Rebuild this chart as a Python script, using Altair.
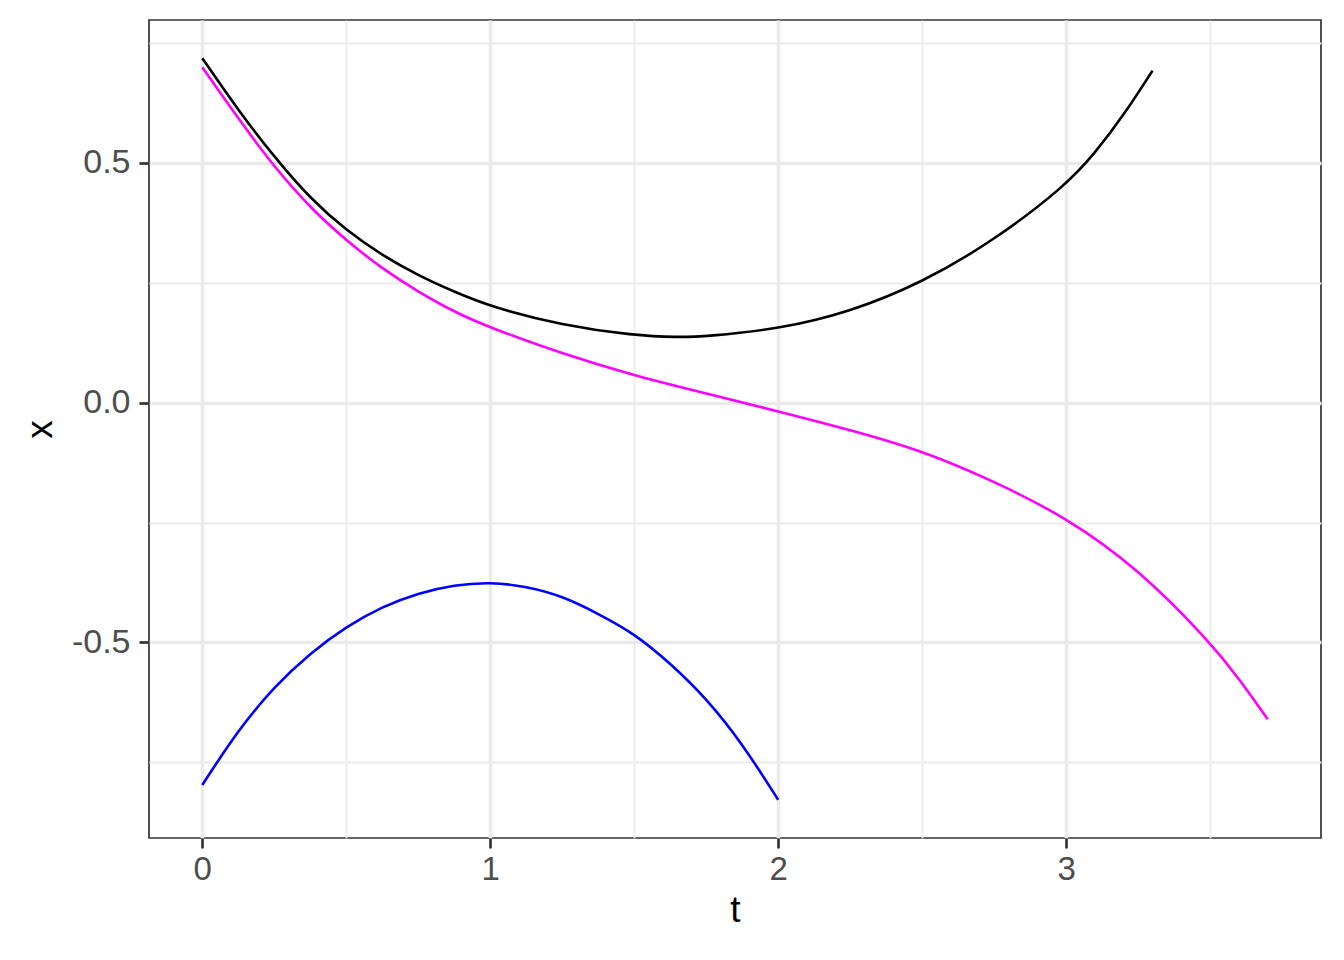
import altair as alt
import pandas as pd

# black curve
t_black = [0.0, 0.125, 0.25, 0.375, 0.5, 0.625, 0.75, 0.875, 1.0, 1.25, 1.5, 1.65, 1.75, 2.0, 2.25, 2.5, 2.75, 3.0, 3.1, 3.2, 3.3]
x_black = [0.718, 0.609, 0.512, 0.425, 0.359, 0.307, 0.265, 0.231, 0.200, 0.161, 0.140, 0.136, 0.138, 0.153, 0.189, 0.250, 0.338, 0.453, 0.520, 0.599, 0.692]

# magenta curve
t_mag = [0.0, 0.125, 0.25, 0.375, 0.5, 0.625, 0.75, 0.875, 1.0, 1.25, 1.5, 1.75, 2.0, 2.25, 2.5, 2.75, 3.0, 3.25, 3.5, 3.6, 3.7]
x_mag = [0.699, 0.592, 0.491, 0.406, 0.338, 0.279, 0.231, 0.189, 0.156, 0.102, 0.056, 0.019, -0.018, -0.057, -0.100, -0.164, -0.239, -0.346, -0.499, -0.575, -0.660]

# blue curve
t_blue = [0.0, 0.125, 0.25, 0.375, 0.5, 0.625, 0.75, 0.875, 1.0, 1.125, 1.25, 1.375, 1.5, 1.625, 1.75, 1.875, 2.0]
x_blue = [-0.797, -0.682, -0.592, -0.522, -0.467, -0.425, -0.397, -0.380, -0.374, -0.383, -0.403, -0.440, -0.481, -0.543, -0.616, -0.710, -0.828]

series_names = ["black", "magenta", "blue"]
series_colors = ["#000000", "#FF00FF", "#0000FF"]

x_major = [0, 1, 2, 3]
x_minor = [0.5, 1.5, 2.5, 3.5]
y_major = [-0.5, 0.0, 0.5]
y_minor = [-0.75, -0.25, 0.25, 0.75]

rows = []
for name, ts, xs in zip(series_names, [t_black, t_mag, t_blue], [x_black, x_mag, x_blue]):
    for i, (a, b) in enumerate(zip(ts, xs)):
        rows.append({"series": name, "t": a, "x": b, "order": i})
df = pd.DataFrame(rows)

FONT = "Liberation Sans"
x_scale = alt.Scale(domain=[-0.185, 3.885], nice=False, zero=False)
y_scale = alt.Scale(domain=[-0.9075, 0.7975], nice=False, zero=False)

minor = alt.Chart(df).mark_line(opacity=0).encode(
    x=alt.X("t:Q", scale=x_scale,
            axis=alt.Axis(orient="bottom", values=x_minor, grid=True, gridColor="#EBEBEB",
                          gridWidth=1.8, labels=False, ticks=False, domain=False, title=None)),
    y=alt.Y("x:Q", scale=y_scale,
            axis=alt.Axis(orient="left", values=y_minor, grid=True, gridColor="#EBEBEB",
                          gridWidth=1.8, labels=False, ticks=False, domain=False, title=None)),
    detail="series:N",
)

label_expr = "datum.value < 0 ? '-' + format(-datum.value, '.1f') : format(datum.value, '.1f')"

main = alt.Chart(df).mark_line(strokeWidth=2.6, interpolate="basis").encode(
    x=alt.X("t:Q", scale=x_scale,
            axis=alt.Axis(orient="bottom", values=x_major, grid=True, gridColor="#EBEBEB",
                          gridWidth=3.5, domain=False, ticks=True, tickColor="#333333",
                          tickWidth=2.7, tickSize=10, labelFont=FONT, labelFontSize=33,
                          labelColor="#4D4D4D", labelPadding=5, title="t",
                          titleFont=FONT, titleFontSize=37, titleFontWeight="normal",
                          titleColor="#000000", titlePadding=6, format="d")),
    y=alt.Y("x:Q", scale=y_scale,
            axis=alt.Axis(orient="left", values=y_major, grid=True, gridColor="#EBEBEB",
                          gridWidth=3.5, domain=False, ticks=True, tickColor="#333333",
                          tickWidth=2.7, tickSize=10, labelFont=FONT, labelFontSize=34,
                          labelColor="#4D4D4D", labelPadding=9, labelExpr=label_expr,
                          title="x", titleFont=FONT, titleFontSize=37,
                          titleFontWeight="normal", titleColor="#000000", titlePadding=12)),
    color=alt.Color("series:N", scale=alt.Scale(domain=series_names, range=series_colors),
                    legend=None),
    order="order:Q",
)

chart = alt.layer(minor, main).resolve_axis(x="independent", y="independent").properties(
    width=1172,
    height=818,
    autosize=alt.AutoSizeParams(type="none"),
    padding={"left": 141, "top": 12, "right": 15, "bottom": 114},
    background="white",
).configure_view(stroke="#333333", strokeWidth=1.7)

chart.save("out.html", embed_options={"renderer": "svg", "actions": False})
